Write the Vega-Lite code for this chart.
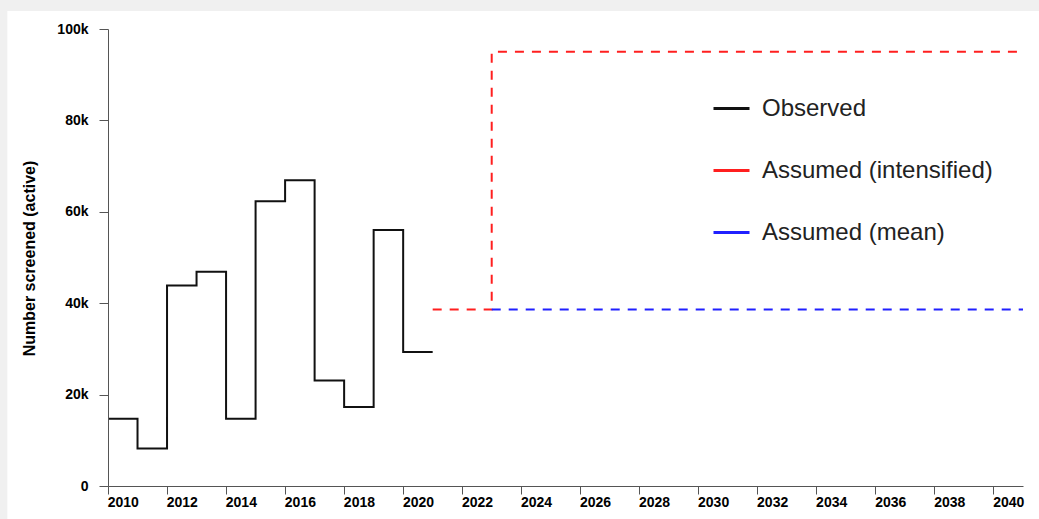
{
  "$schema": "https://vega.github.io/schema/vega-lite/v6.json",
  "width": 915,
  "height": 457,
  "autosize": {"type": "none"},
  "padding": {"left": 108, "top": 29, "right": 16, "bottom": 33},
  "background": "#f0f0f0",
  "config": {"view": {"stroke": null}, "font": "Liberation Sans"},
  "datasets": {
    "screening": [
      {"series": "Observed", "year": 2010, "value": 14700},
      {"series": "Observed", "year": 2011, "value": 8200},
      {"series": "Observed", "year": 2012, "value": 43900},
      {"series": "Observed", "year": 2013, "value": 46900},
      {"series": "Observed", "year": 2014, "value": 14700},
      {"series": "Observed", "year": 2015, "value": 62300},
      {"series": "Observed", "year": 2016, "value": 66900},
      {"series": "Observed", "year": 2017, "value": 23100},
      {"series": "Observed", "year": 2018, "value": 17300},
      {"series": "Observed", "year": 2019, "value": 56000},
      {"series": "Observed", "year": 2020, "value": 29300},
      {"series": "Observed", "year": 2021, "value": 29300},
      {"series": "Assumed (intensified)", "year": 2021, "value": 38600},
      {"series": "Assumed (intensified)", "year": 2023, "value": 95000},
      {"series": "Assumed (intensified)", "year": 2041, "value": 95000},
      {"series": "Assumed (mean)", "year": 2023, "value": 38600},
      {"series": "Assumed (mean)", "year": 2041, "value": 38600}
    ]
  },
  "layer": [
    {
      "data": {"values": [{}]},
      "mark": {"type": "rect", "fill": "#ffffff", "strokeWidth": 0},
      "encoding": {
        "x": {"datum": 2006.59, "type": "quantitative", "scale": {"domain": [2010, 2041], "nice": false, "zero": false}},
        "x2": {"datum": 2045},
        "y": {"datum": 103940, "type": "quantitative", "scale": {"domain": [0, 100000], "nice": false}},
        "y2": {"datum": -10000}
      }
    },
    {
      "data": {"name": "screening"},
      "transform": [{"filter": "datum.series == 'Observed'"}],
      "mark": {"type": "line", "interpolate": "step-after", "strokeWidth": 2, "strokeJoin": "miter", "strokeCap": "butt"},
      "encoding": {
        "x": {
          "field": "year",
          "type": "quantitative",
          "scale": {"domain": [2010, 2041], "nice": false, "zero": false},
          "axis": {
            "zindex": 1,
            "values": [2010, 2011, 2012, 2013, 2014, 2015, 2016, 2017, 2018, 2019, 2020, 2021, 2022, 2023, 2024, 2025, 2026, 2027, 2028, 2029, 2030, 2031, 2032, 2033, 2034, 2035, 2036, 2037, 2038, 2039, 2040, 2041],
            "format": "d",
            "labelExpr": "datum.value % 2 == 0 ? datum.label : ''",
            "labelOffset": 14.8,
            "labelFlush": false,
            "labelOverlap": false,
            "tickSize": 8,
            "labelPadding": 1,
            "labelFont": "Liberation Sans",
            "labelFontSize": 14,
            "labelFontWeight": "bold",
            "labelColor": "#000000",
            "domainColor": "#555555",
            "tickColor": "#555555",
            "grid": false,
            "title": null
          }
        },
        "y": {
          "field": "value",
          "type": "quantitative",
          "scale": {"domain": [0, 100000], "nice": false},
          "axis": {
            "zindex": 1,
            "values": [0, 20000, 40000, 60000, 80000, 100000],
            "labelExpr": "datum.value == 0 ? '0' : (datum.value / 1000) + 'k'",
            "tickSize": 9,
            "labelPadding": 11,
            "labelFont": "Liberation Sans",
            "labelFontSize": 14,
            "labelFontWeight": "bold",
            "labelColor": "#000000",
            "domainColor": "#555555",
            "tickColor": "#555555",
            "grid": false,
            "title": "Number screened (active)",
            "titleFont": "Liberation Sans",
            "titleFontSize": 16,
            "titleFontWeight": "bold",
            "titleColor": "#000000",
            "titleX": -74,
            "titleY": 229,
            "titleAngle": -90,
            "titleAlign": "center",
            "titleBaseline": "alphabetic"
          }
        },
        "color": {
          "field": "series",
          "type": "nominal",
          "scale": {"domain": ["Observed", "Assumed (intensified)", "Assumed (mean)"], "range": ["#111111", "#ff1f1f", "#2020ff"]},
          "legend": {
            "orient": "none",
            "legendX": 604,
            "legendY": 60,
            "title": null,
            "symbolType": "stroke",
            "symbolSize": 1296,
            "symbolStrokeWidth": 3,
            "labelFont": "Liberation Sans",
            "labelFontSize": 24,
            "labelColor": "#222222",
            "labelOffset": 11,
            "rowPadding": 30,
            "labelLimit": 400
          }
        }
      }
    },
    {
      "data": {"name": "screening"},
      "transform": [{"filter": "datum.series != 'Observed'"}],
      "mark": {"type": "line", "interpolate": "step-after", "strokeWidth": 2, "strokeDash": [9, 8], "strokeJoin": "miter", "strokeCap": "butt"},
      "encoding": {
        "x": {"field": "year", "type": "quantitative", "scale": {"domain": [2010, 2041], "nice": false, "zero": false}},
        "y": {"field": "value", "type": "quantitative", "scale": {"domain": [0, 100000], "nice": false}},
        "color": {"field": "series", "type": "nominal", "legend": null}
      }
    }
  ]
}
